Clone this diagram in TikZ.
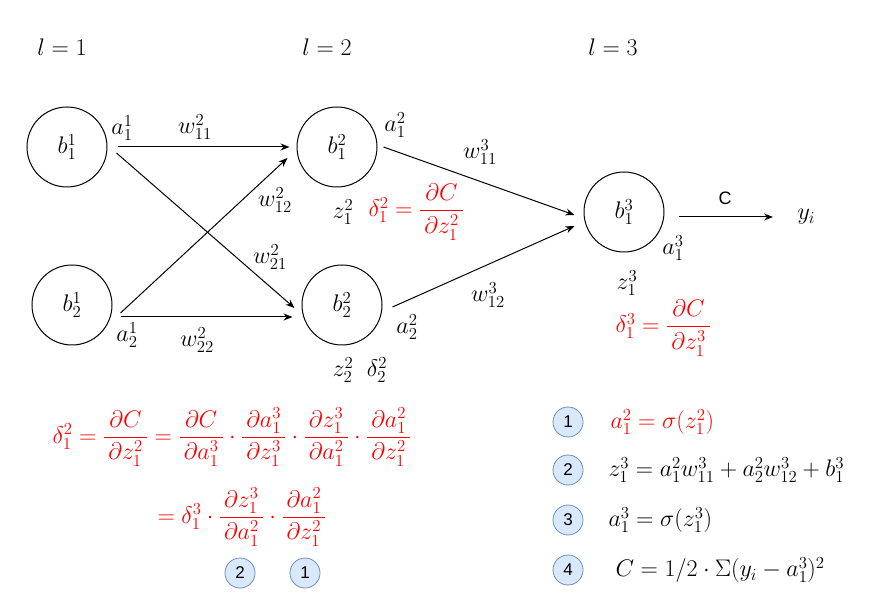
\RequirePackage{fix-cm}
\documentclass[tikz,border=0pt]{standalone}
\usepackage{amsmath}
\usepackage{fontspec}
\setsansfont{Liberation Sans}
\usetikzlibrary{arrows.meta}
\definecolor{numfill}{HTML}{DAE8FC}
\definecolor{numdraw}{HTML}{6C8EBF}
\newcommand{\gradfrac}[2]{\dfrac{\,#1\,}{\,#2\,}}
\begin{document}
\begin{tikzpicture}[x=1pt,y=-1pt,line width=1pt,>={Stealth[length=9pt,width=7pt]}]
	\useasboundingbox (0,0) rectangle (892,609);
	\begin{scope}[every node/.style={font=\fontsize{24}{28}\selectfont}]
		\tikzstyle{neuron}=[draw,shape=circle,minimum size=80pt,inner sep=0pt];
		\tikzstyle{step number}=[draw=numdraw,fill=numfill,shape=circle,minimum size=30pt,inner sep=0pt,line width=0.8pt,font=\sffamily\fontsize{17}{20}\selectfont];
		\tikzstyle{grad}=[text=red];
		% layers
		\path ( 62, 47) node (l1) {$l=1$};
		\path (327, 47) node (l2) {$l=2$};
		\path (613, 47) node (l3) {$l=3$};
		% neurons
		\path ( 67,147) node [neuron] (b11) {$b^1_1$};
		\path ( 72,305) node [neuron] (b21) {$b^1_2$};
		\path (337,147) node [neuron] (b12) {$b^2_1$};
		\path (342,305) node [neuron] (b22) {$b^2_2$};
		\path (624,212) node [neuron] (b13) {$b^3_1$};
		\path (797,217) node [anchor=west,inner sep=0pt] (y) {$y_i$};
		% connections
		\draw[->] ([xshift=10pt]b11.east) -- ([xshift=-7pt]b12.west);
		\draw[->] ([shift={(9,6)}]b11.east) -- ([shift={(-7,3)}]b22.west);
		\draw[->] ([shift={(8,8)}]b21.east) -- ([shift={(-9,11)}]b12.west);
		\draw[->] ([shift={(8,12)}]b21.east) -- ([shift={(-9,12)}]b22.west);
		\draw[->] ([shift={(6,0)}]b12.east) -- ([shift={(-9,3)}]b13.west);
		\draw[->] ([shift={(10,2)}]b22.east) -- ([shift={(-9,14)}]b13.west);
		\draw[->] ([shift={(14,5)}]b13.east) -- ([xshift=-24pt]y.west);
		% labels
		\path (122,128) node (a11) {$a^1_1$};
		\path (127,335) node (a21) {$a^1_2$};
		\path (195,127) node (w211) {$w^2_{11}$};
		\path (275,200) node (w212) {$w^2_{12}$};
		\path (270,257) node (w221) {$w^2_{21}$};
		\path (197,340) node (w222) {$w^2_{22}$};
		\path (395,125) node (a12) {$a^2_1$};
		\path (407,327) node (a22) {$a^2_2$};
		\path (343,212) node (z12) {$z^2_1$};
		\path (368,212) node [grad,anchor=west,inner sep=0pt] (d12) {$\delta^2_1=\gradfrac{\partial C}{\partial z^2_1}$};
		\path (343,370) node (z22) {$z^2_2$};
		\path (377,370) node (d22) {$\delta^2_2$};
		\path (480,152) node (w311) {$w^3_{11}$};
		\path (488,295) node (w312) {$w^3_{12}$};
		\path (673,248) node (a13) {$a^3_1$};
		\path (725,198) node [font=\sffamily\fontsize{18}{21}\selectfont] (cost) {C};
		\path (627,283) node (z13) {$z^3_1$};
		\path (615,328) node [grad,anchor=west,inner sep=0pt] (d13) {$\delta^3_1=\gradfrac{\partial C}{\partial z^3_1}$};
		% chain rule
		\path ( 52,437) node [grad,anchor=west,inner sep=0pt] (chain1) {$\delta^2_1=\gradfrac{\partial C}{\partial z^2_1}=\gradfrac{\partial C}{\partial a^3_1}\cdot\gradfrac{\partial a^3_1}{\partial z^3_1}\cdot\gradfrac{\partial z^3_1}{\partial a^2_1}\cdot\gradfrac{\partial a^2_1}{\partial z^2_1}$};
		\path (157,517) node [grad,anchor=west,inner sep=0pt] (chain2) {$=\delta^3_1\cdot\gradfrac{\partial z^3_1}{\partial a^2_1}\cdot\gradfrac{\partial a^2_1}{\partial z^2_1}$};
		\path (240,573) node [step number] (c2) {2};
		\path (305,573) node [step number] (c1) {1};
		% forward pass
		\path (568,422) node [step number] (s1) {1};
		\path (568,470) node [step number] (s2) {2};
		\path (568,520) node [step number] (s3) {3};
		\path (568,570) node [step number] (s4) {4};
		\path (610,422) node [grad,anchor=west,inner sep=0pt] (e1) {$a^2_1=\sigma(z^2_1)$};
		\path (608,470) node [anchor=west,inner sep=0pt] (e2) {$z^3_1=a^2_1w^3_{11}+a^2_2w^3_{12}+b^3_1$};
		\path (608,520) node [anchor=west,inner sep=0pt] (e3) {$a^3_1=\sigma(z^3_1)$};
		\path (615,570) node [anchor=west,inner sep=0pt] (e4) {$C=1/2\cdot\Sigma(y_i-a^3_1)^2$};
	\end{scope}
\end{tikzpicture}
\end{document}
